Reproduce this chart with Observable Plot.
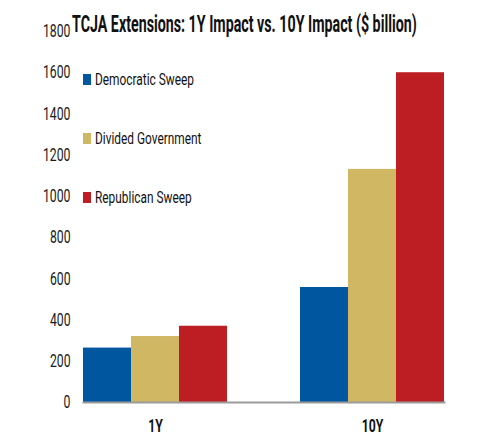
<!DOCTYPE html>
<html><head><meta charset="utf-8">
<script src="https://cdn.jsdelivr.net/npm/d3@7"></script>
<script src="https://cdn.jsdelivr.net/npm/@observablehq/plot@0.6"></script>
<style>
body{margin:0;background:#fff;}
#wrap{position:relative;width:481px;height:436px;overflow:hidden;}
#title{position:absolute;left:72px;top:13px;font:bold 23px Roboto, sans-serif;line-height:24px;white-space:nowrap;transform-origin:0 0;color:#111;}
.leg{position:absolute;left:83px;display:flex;align-items:center;white-space:nowrap;}
.sw{width:7.5px;height:10.5px;margin-right:4px;flex:none;}
.lt{font:16.5px Roboto, sans-serif;color:#111;transform-origin:0 50%;display:inline-block;}
</style></head>
<body><div id="wrap"></div>
<script>
const periods = ["1Y", "10Y"];
const scenarios = ["Democratic Sweep", "Divided Government", "Republican Sweep"];
const colors = ["#0156a0", "#cfb764", "#bc1e23"];
const values1Y = [264, 320, 370];
const values10Y = [558, 1131, 1600];
const yTicks = [0, 200, 400, 600, 800, 1000, 1200, 1400, 1600, 1800];
const titleText = "TCJA Extensions: 1Y Impact vs. 10Y Impact ($ billion)";

const data = [];
scenarios.forEach((s, i) => {
  data.push({period: periods[0], scenario: s, value: values1Y[i]});
  data.push({period: periods[1], scenario: s, value: values10Y[i]});
});

const plot = Plot.plot({
  width: 481, height: 436,
  marginLeft: 47, marginRight: 0, marginTop: 31, marginBottom: 34,
  style: {fontFamily: "Roboto, sans-serif", background: "#fff"},
  fx: {domain: periods, paddingInner: 0.335, paddingOuter: 0.165, label: null},
  x: {domain: scenarios, padding: 0, axis: null},
  y: {domain: [0, 1800], label: null},
  color: {domain: scenarios, range: colors},
  marks: [
    Plot.axisY({ticks: yTicks, tickSize: 0, tickPadding: 13, fontSize: 18, fill: "#1a1a1a", label: null, tickFormat: d => String(d)}),
    Plot.axisFx({anchor: "bottom", tickSize: 0, tickPadding: 17, fontSize: 18, fontWeight: "bold", fill: "#111", label: null}),
    Plot.barY(data, {fx: "period", x: "scenario", y: "value", fill: "scenario"}),
    Plot.frame({anchor: "bottom", stroke: "#9b9b9b", strokeWidth: 2, facet: "super"})
  ]
});

const wrap = document.getElementById("wrap");
wrap.appendChild(plot);

// condense SVG text (reference font is horizontally compressed)
plot.querySelectorAll("text").forEach(t => {
  const w = t.getComputedTextLength();
  t.setAttribute("textLength", (w * 0.68).toFixed(1));
  t.setAttribute("lengthAdjust", "spacingAndGlyphs");
});

// title
const title = document.createElement("div");
title.id = "title";
title.textContent = titleText;
wrap.appendChild(title);
title.style.transform = `scaleX(${345 / title.offsetWidth})`;

// legend
const legTops = [70, 129, 188];
scenarios.forEach((s, i) => {
  const row = document.createElement("div");
  row.className = "leg";
  row.style.top = legTops[i] + "px";
  const sw = document.createElement("div");
  sw.className = "sw";
  sw.style.background = colors[i];
  const lt = document.createElement("span");
  lt.className = "lt";
  lt.textContent = s;
  row.appendChild(sw);
  row.appendChild(lt);
  wrap.appendChild(row);
  lt.style.transform = "scaleX(0.72)";
});
</script>
</body></html>
